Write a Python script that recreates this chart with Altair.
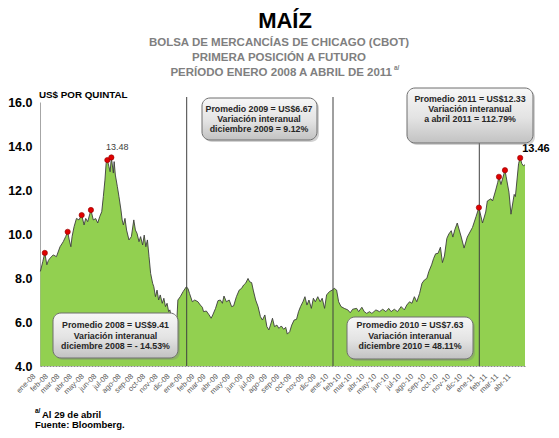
import altair as alt
import pandas as pd

# ---------------- data ----------------
dates_2008 = ["2008-01-02", "2008-01-08", "2008-01-13", "2008-01-18", "2008-01-22", "2008-01-26",
              "2008-02-03", "2008-02-11", "2008-02-20", "2008-02-28", "2008-03-05", "2008-03-10",
              "2008-03-14", "2008-03-18", "2008-03-21", "2008-03-26", "2008-04-01", "2008-04-07",
              "2008-04-14", "2008-04-20", "2008-04-24", "2008-04-29", "2008-05-07", "2008-05-13",
              "2008-05-19", "2008-05-24", "2008-05-29", "2008-06-03", "2008-06-07", "2008-06-11",
              "2008-06-14", "2008-06-17", "2008-06-21", "2008-06-24", "2008-06-27", "2008-07-02",
              "2008-07-04", "2008-07-07", "2008-07-12", "2008-07-16", "2008-07-21", "2008-07-24",
              "2008-07-27", "2008-07-31", "2008-08-04", "2008-08-10", "2008-08-16", "2008-08-22",
              "2008-08-26", "2008-08-30", "2008-09-04", "2008-09-08", "2008-09-13", "2008-09-17",
              "2008-09-21", "2008-09-25", "2008-09-29", "2008-10-03", "2008-10-08", "2008-10-11",
              "2008-10-15", "2008-10-19", "2008-10-23", "2008-10-27", "2008-11-01", "2008-11-05",
              "2008-11-09", "2008-11-13", "2008-11-17", "2008-11-20", "2008-11-25", "2008-12-01",
              "2008-12-05", "2008-12-08", "2008-12-10", "2008-12-16", "2008-12-23", "2008-12-31"]
prices_2008 = [8.30, 8.75, 9.14, 8.60, 8.80, 8.90,
               9.05, 8.97, 9.42, 9.65, 9.88, 10.10,
               9.73, 9.42, 9.88, 10.33, 10.71, 10.64,
               10.86, 10.41, 10.71, 10.56, 11.09, 10.64,
               10.70, 10.50, 10.79, 11.01, 11.70, 12.45,
               13.21, 13.36, 13.06, 12.83, 13.48, 12.77,
               13.29, 12.68, 12.15, 11.70, 11.09, 10.64,
               10.41, 10.71, 10.18, 9.73, 9.88, 10.64,
               10.18, 10.03, 9.65, 9.88, 9.50, 9.95,
               9.42, 9.73, 8.97, 8.21, 7.76, 7.60,
               7.15, 7.45, 7.00, 7.23, 6.85, 7.08,
               6.70, 6.85, 6.47, 6.55, 6.10, 5.80,
               5.60, 6.30, 7.00, 7.15, 7.38, 7.60]

dates_2009 = ["2009-01-04", "2009-01-08", "2009-01-15", "2009-01-21", "2009-01-29", "2009-02-04",
              "2009-02-09", "2009-02-12", "2009-02-19", "2009-02-26", "2009-03-03", "2009-03-07",
              "2009-03-14", "2009-03-20", "2009-03-26", "2009-03-31", "2009-04-04", "2009-04-10",
              "2009-04-17", "2009-04-23", "2009-04-28", "2009-05-05", "2009-05-12", "2009-05-18",
              "2009-05-23", "2009-05-28", "2009-06-03", "2009-06-07", "2009-06-12", "2009-06-16",
              "2009-06-22", "2009-06-28", "2009-07-04", "2009-07-09", "2009-07-15", "2009-07-20",
              "2009-07-25", "2009-07-29", "2009-08-03", "2009-08-08", "2009-08-14", "2009-08-19",
              "2009-08-25", "2009-08-31", "2009-09-05", "2009-09-09", "2009-09-15", "2009-09-20",
              "2009-09-26", "2009-10-02", "2009-10-07", "2009-10-12", "2009-10-18", "2009-10-23",
              "2009-10-28", "2009-11-02", "2009-11-08", "2009-11-13", "2009-11-18", "2009-11-24",
              "2009-11-30", "2009-12-05", "2009-12-11", "2009-12-16", "2009-12-23", "2009-12-30"]
prices_2009 = [7.53, 7.30, 6.92, 7.00, 6.92, 6.77,
               6.67, 6.47, 6.50, 6.32, 6.17, 6.32,
               6.62, 6.97, 7.00, 6.85, 7.18, 6.92,
               7.00, 6.70, 6.73, 7.15, 7.45, 7.53,
               7.68, 7.76, 7.98, 7.83, 7.79, 7.45,
               7.00, 6.70, 6.24, 6.09, 6.32, 5.79,
               5.64, 5.86, 6.17, 5.79, 5.86, 5.71,
               5.82, 5.67, 5.76, 5.45, 5.56, 5.86,
               6.09, 6.12, 6.47, 6.70, 6.92, 7.15,
               6.77, 7.00, 6.62, 7.08, 6.92, 7.15,
               6.92, 7.08, 6.62, 7.23, 7.38, 7.45]

dates_2010 = ["2010-01-04", "2010-01-10", "2010-01-15", "2010-01-21", "2010-01-29", "2010-02-07",
              "2010-02-13", "2010-02-19", "2010-03-01", "2010-03-06", "2010-03-14", "2010-03-20",
              "2010-03-26", "2010-04-02", "2010-04-08", "2010-04-18", "2010-04-27", "2010-05-05",
              "2010-05-13", "2010-05-20", "2010-05-26", "2010-06-03", "2010-06-11", "2010-06-20",
              "2010-06-28", "2010-07-04", "2010-07-11", "2010-07-17", "2010-07-23", "2010-07-29",
              "2010-08-05", "2010-08-11", "2010-08-17", "2010-08-23", "2010-08-28", "2010-09-04",
              "2010-09-09", "2010-09-14", "2010-09-20", "2010-09-26", "2010-10-01", "2010-10-06",
              "2010-10-12", "2010-10-17", "2010-10-23", "2010-10-27", "2010-11-01", "2010-11-07",
              "2010-11-17", "2010-11-24", "2010-12-02", "2010-12-15", "2010-12-24", "2010-12-31"]
prices_2010 = [7.53, 7.45, 6.92, 6.70, 6.62, 6.55,
               6.42, 6.58, 6.62, 6.47, 6.67, 6.47,
               6.39, 6.47, 6.39, 6.55, 6.47, 6.58,
               6.47, 6.62, 6.47, 6.58, 6.47, 6.70,
               6.55, 6.77, 6.92, 6.85, 7.15, 6.92,
               7.30, 7.76, 7.91, 7.98, 8.29, 8.60,
               8.89, 9.10, 9.12, 9.40, 8.70, 9.00,
               9.80, 10.00, 10.15, 9.86, 10.20, 10.50,
               9.86, 9.36, 9.86, 10.30, 10.80, 11.20]

dates_2011 = ["2011-01-09", "2011-01-17", "2011-01-21", "2011-01-30", "2011-02-03", "2011-02-11",
              "2011-02-16", "2011-02-19", "2011-02-24", "2011-03-06", "2011-03-09", "2011-03-16",
              "2011-03-21", "2011-03-29", "2011-04-01", "2011-04-09", "2011-04-13", "2011-04-17",
              "2011-04-21", "2011-04-25"]
prices_2011 = [10.50, 11.00, 11.50, 11.60, 11.50, 12.00,
               12.35, 12.60, 12.25, 12.90, 12.60, 11.90,
               10.90, 11.80, 11.70, 13.20, 13.46, 13.20,
               13.10, 13.15]

peak_dates = ["2008-01-13", "2008-03-10", "2008-04-14", "2008-05-07", "2008-06-17", "2008-06-27",
              "2010-12-31", "2011-02-19", "2011-03-06", "2011-04-13"]
peak_prices = [9.14, 10.10, 10.86, 11.09, 13.36, 13.48, 11.20, 12.60, 12.90, 13.46]

year_starts = ["2009-01-01", "2010-01-01", "2011-01-01"]

month_abbr = ["ene", "feb", "mar", "abr", "may", "jun", "jul", "ago", "sep", "oct", "nov", "dic"]
axis_years = [2008, 2009, 2010, 2011]
last_month_2011 = 4
y_ticks = [4, 6, 8, 10, 12, 14, 16]

title_text = "MAÍZ"
subtitle_lines = ["BOLSA DE MERCANCÍAS DE CHICAGO (CBOT)", "PRIMERA POSICIÓN A FUTURO",
                  "PERÍODO ENERO 2008 A ABRIL DE 2011"]
note_mark = "a/"
y_title = "US$ POR QUINTAL"
box_2008 = ["Promedio 2008  = US$9.41", "Variación interanual", "diciembre 2008  = - 14.53%"]
box_2009 = ["Promedio 2009  = US$6.67", "Variación interanual", "diciembre 2009 = 9.12%"]
box_2010 = ["Promedio 2010  = US$7.63", "Variación interanual", "diciembre 2010 =  48.11%"]
box_2011 = ["Promedio 2011  = US$12.33", "Variación interanual", "a abril 2011 =  112.79%"]
label_2008 = ["13.48"]
label_2011 = ["13.46"]
footnotes = ["Al 29 de abril", "Fuente: Bloomberg."]

# ---------------- build ----------------
series = pd.DataFrame({"date": dates_2008 + dates_2009 + dates_2010 + dates_2011,
                       "price": prices_2008 + prices_2009 + prices_2010 + prices_2011})
peaks = pd.DataFrame({"date": peak_dates, "price": peak_prices})

FONT = "Liberation Sans, Arial, sans-serif"
W, H = 485, 264

tick_values = [alt.DateTime(year=yr, month=m, date=1, utc=True)
               for yr in axis_years for m in range(1, 13)
               if not (yr == axis_years[-1] and m > last_month_2011)]
month_js = "[" + ",".join("'%s'" % m for m in month_abbr) + "]"

x_scale = alt.Scale(type="utc",
                    domain=[alt.DateTime(year=2008, month=1, date=1, utc=True),
                            alt.DateTime(year=2011, month=4, date=25, utc=True)])
y_scale = alt.Scale(domain=[4, 16], nice=False, zero=False)

X_AXIS = alt.Axis(values=tick_values,
                  labelExpr=month_js + "[utcmonth(datum.value)] + '-' + utcFormat(datum.value, '%y')",
                  labelAngle=315, labelAlign="right", labelBaseline="middle",
                  labelPadding=9, labelOffset=-6, labelFont=FONT, labelFontSize=7.5,
                  labelColor="#595959", ticks=False, grid=False, labelOverlap=False,
                  labelBound=False, labelFlush=False, title=None,
                  domainColor="#8c8c8c", domainDash=[2, 1], domainWidth=1)
Y_AXIS = alt.Axis(values=y_ticks, format=".1f", ticks=False, grid=False, title=None,
                  labelPadding=8, labelFont=FONT, labelFontSize=12.5,
                  labelFontWeight="bold", labelColor="#000000",
                  domainColor="#a6a6a6", domainWidth=1)
XE = alt.X("date:T", scale=x_scale, axis=X_AXIS)
YE = alt.Y("price:Q", scale=y_scale, axis=Y_AXIS)

area = alt.Chart(series).mark_area(
    color="#92d050", opacity=1,
    line={"color": "#3c3c3c", "strokeWidth": 0.9},
).encode(x=XE, y=YE, y2=alt.datum(4))

rules_a = alt.Chart(pd.DataFrame({"date": year_starts[:2]})).mark_rule(
    color="#404040", strokeWidth=1).encode(
    x=XE, y=alt.value(-5), y2=alt.value(H))
rules_b = alt.Chart(pd.DataFrame({"date": year_starts[2:]})).mark_rule(
    color="#404040", strokeWidth=1).encode(
    x=XE, y=alt.value(41), y2=alt.value(H))

dots = alt.Chart(peaks).mark_point(
    filled=True, size=28, fill="#e00000", stroke="#900000", strokeWidth=0.6, opacity=1
).encode(x=XE, y=YE)

lbl08 = alt.Chart(pd.DataFrame({"date": [peak_dates[5]], "price": [peak_prices[5]], "t": label_2008})).mark_text(
    font=FONT, fontSize=9, color="#404040", dx=6, dy=-10, align="center", baseline="middle"
).encode(x=XE, y=YE, text="t:N")
lbl11 = alt.Chart(pd.DataFrame({"date": [peak_dates[-1]], "price": [peak_prices[-1]], "t": label_2011})).mark_text(
    font=FONT, fontSize=11, fontWeight="bold", color="#000000", dx=2, dy=-9, align="left",
    baseline="middle"
).encode(x=XE, y=YE, text="t:N")

grad = {"gradient": "linear", "x1": 0, "y1": 0, "x2": 0, "y2": 1,
        "stops": [{"offset": 0, "color": "#f7f7f7"}, {"offset": 0.55, "color": "#e3e3e3"},
                  {"offset": 1, "color": "#c2c2c2"}]}


def text_layer(s, x, y, size, weight="bold", color="#262626", align="center"):
    return alt.Chart(pd.DataFrame({"t": [s]})).mark_text(
        font=FONT, fontSize=size, fontWeight=weight, color=color, align=align, baseline="middle"
    ).encode(x=alt.value(x), y=alt.value(y), text="t:N")


def box(lines, x0, x1, y0, y1, cx, ys):
    layers = [
        alt.Chart(pd.DataFrame({"k": [0]})).mark_rect(
            cornerRadius=8, fill="#7f7f7f", opacity=0.35).encode(
            x=alt.value(x0 + 2), x2=alt.value(x1 + 2), y=alt.value(y0 + 2), y2=alt.value(y1 + 2)),
        alt.Chart(pd.DataFrame({"k": [0]})).mark_rect(
            cornerRadius=8, fill=grad, stroke="#6e6e6e", strokeWidth=1).encode(
            x=alt.value(x0), x2=alt.value(x1), y=alt.value(y0), y2=alt.value(y1)),
    ]
    for s, yy in zip(lines, ys):
        layers.append(text_layer(s, cx, yy, 8.8))
    return layers


deco = []
deco += box(box_2008, 13, 138, 211, 256, 75.5, [223, 233.5, 244])
deco += box(box_2009, 162, 277, -4, 38, 219, [6.5, 16.5, 26.5])
deco += box(box_2010, 307, 433, 215, 257, 370, [223, 233.5, 244])
deco += box(box_2011, 367, 493, -14, 41, 430, [-3.5, 6.5, 17])

deco.append(text_layer(title_text, 245, -81, 22, color="#000000"))
deco.append(text_layer(subtitle_lines[0], 239, -59, 11.5, color="#7f7f7f"))
deco.append(text_layer(subtitle_lines[1], 239, -44, 11.5, color="#7f7f7f"))
deco.append(text_layer(subtitle_lines[2], 352, -29, 11.5, color="#7f7f7f", align="right"))
deco.append(text_layer(note_mark, 354, -34, 6.5, color="#7f7f7f", align="left"))
deco.append(text_layer(y_title, -1, -7, 9.8, color="#000000", align="left"))
deco.append(text_layer(note_mark, -5, 309, 6.5, color="#000000", align="left"))
deco.append(text_layer(footnotes[0], 2, 312.5, 9.5, color="#000000", align="left"))
deco.append(text_layer(footnotes[1], -5, 323, 9.5, color="#000000", align="left"))

chart = alt.layer(area, rules_a, rules_b, dots, lbl08, lbl11, *deco).properties(
    width=W, height=H,
    padding={"left": 32, "top": 94, "right": 26, "bottom": 64},
    autosize=alt.AutoSizeParams(type="none"),
    background="#ffffff",
).configure_view(stroke=None).configure_axis(grid=False, labelOverlap=False)

chart.save("out.html", embed_options={"renderer": "svg", "actions": False})
